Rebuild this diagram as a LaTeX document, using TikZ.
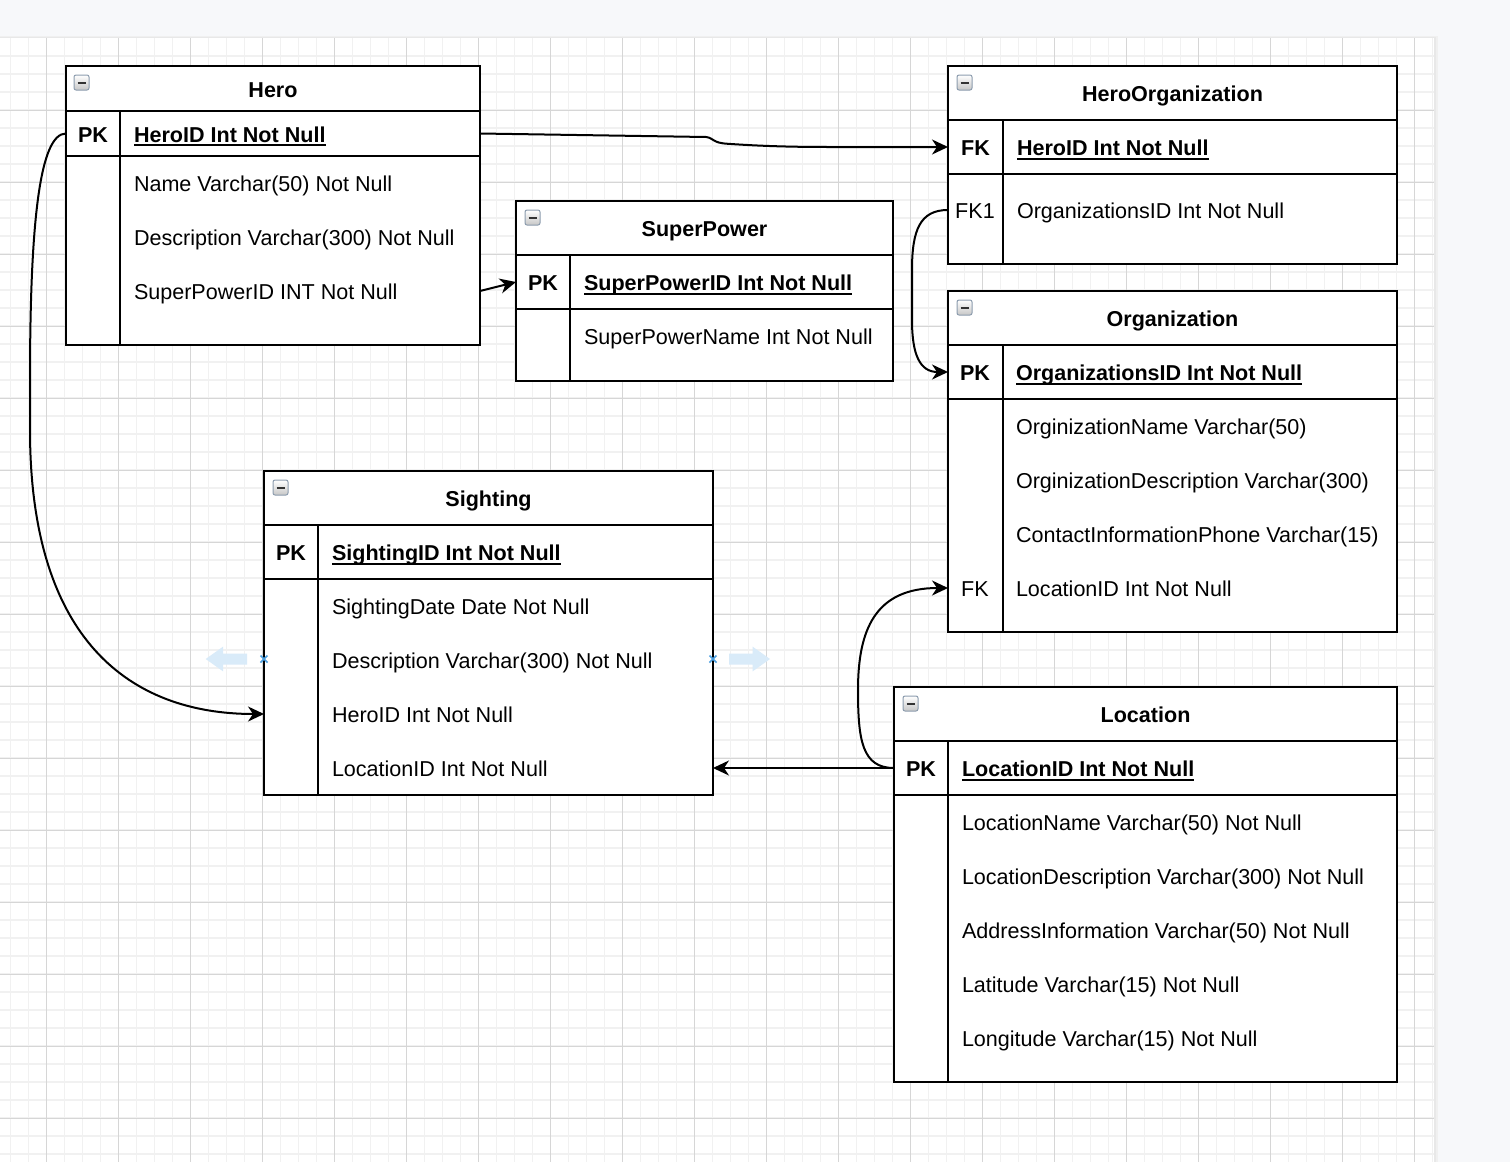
\documentclass[tikz,border=0pt]{standalone}
\usepackage{fontspec}
\setmainfont{Liberation Sans}
\usetikzlibrary{arrows.meta}

% bold key field with a heavy underline
\newcommand{\keyul}[1]{\setbox0=\hbox{#1}\rlap{\rule[-4pt]{\wd0}{1.8pt}}\box0}

\definecolor{canvasbg}{HTML}{F7F8FA}
\definecolor{gridminor}{HTML}{F1F1F1}
\definecolor{gridmajor}{HTML}{D6D6D6}
\definecolor{hintblue}{HTML}{D9EBF9}
\definecolor{markblue}{HTML}{4A9FE0}
\definecolor{iconedge}{HTML}{8C9CAE}

\tikzset{
  txt/.style={font=\fontsize{21.55pt}{25pt}\selectfont, inner sep=0pt, outer sep=0pt,
              text height=15.4pt, text depth=0pt, yshift=-1pt},
  title/.style={txt, font=\fontsize{21.55pt}{25pt}\selectfont\bfseries},
  keybold/.style={txt, font=\fontsize{21.55pt}{25pt}\selectfont\bfseries},
  keyplain/.style={txt},
  field/.style={txt, anchor=west},
  fieldbold/.style={txt, anchor=west, font=\fontsize{21.55pt}{25pt}\selectfont\bfseries},
  frame/.style={draw=black, line width=2pt, fill=white, inner sep=0pt, outer sep=0pt},
  rowcell/.style={inner sep=0pt, outer sep=0pt},
  rule/.style={draw=black, line width=2pt},
  link/.style={draw=black, line width=2pt, -{Stealth[length=16pt,width=15pt,inset=5pt]}},
  collapse/.pic={
    \draw[iconedge, line width=1pt, rounded corners=2pt, top color=white, bottom color=black!22]
      (0,0) rectangle (15,15);
    \draw[black!80, line width=2pt] (3.5,7.5) -- (11.5,7.5);
  }
}

\begin{document}
\begin{tikzpicture}[x=1pt,y=-1pt]
\useasboundingbox (0,0) rectangle (1510,1162);

% canvas and page
\fill[canvasbg] (0,0) rectangle (1510,1162);
\fill[black!6] (0,35.5) rectangle (1437.5,1162);
\fill[black!9] (0,37) rectangle (1435.5,1162);
\fill[white] (0,38) rectangle (1434,1162);

% grid
\foreach \i in {0,...,79} \draw[gridminor, line width=1.5pt] ({10.7+18*\i},38) -- ({10.7+18*\i},1162);
\foreach \j in {1,...,62} \draw[gridminor, line width=1.5pt] (0,{38+18*\j}) -- (1434,{38+18*\j});
\foreach \i in {0,...,19} \draw[gridmajor, line width=1pt] ({46.7+72*\i},38) -- ({46.7+72*\i},1162);
\foreach \j in {1,...,15} \draw[gridmajor, line width=1pt] (0,{38+72*\j}) -- (1434,{38+72*\j});

% ---------------- Hero ----------------
\node[frame, minimum width=414pt, minimum height=279pt] (hero) at (273,205.5) {};
\draw[rule] (66,111) -- (480,111);
\draw[rule] (66,156) -- (480,156);
\draw[rule] (120,111) -- (120,345);
\pic at (74,75) {collapse};
\node[title] (hero-title) at (273,89) {Hero};
\node[rowcell, minimum width=414pt, minimum height=45pt] (hero-pk) at (273,133.5) {};
\node[rowcell, minimum width=414pt, minimum height=54pt] (hero-name) at (273,183) {};
\node[rowcell, minimum width=414pt, minimum height=54pt] (hero-desc) at (273,237) {};
\node[rowcell, minimum width=414pt, minimum height=54pt] (hero-spid) at (273,291) {};
\node[keybold] (hero-pk-k) at (93,133.5) {PK};
\node[fieldbold] (hero-pk-f) at (134,133.5) {\keyul{HeroID Int Not Null}};
\node[field] (hero-name-f) at (134,183) {Name Varchar(50) Not Null};
\node[field] (hero-desc-f) at (134,237) {Description Varchar(300) Not Null};
\node[field] (hero-spid-f) at (134,291) {SuperPowerID INT Not Null};

% ---------------- SuperPower ----------------
\node[frame, minimum width=377pt, minimum height=180pt] (sp) at (704.5,291) {};
\draw[rule] (516,255) -- (893,255);
\draw[rule] (516,309) -- (893,309);
\draw[rule] (570,255) -- (570,381);
\pic at (525,210) {collapse};
\node[title] (sp-title) at (704.5,228) {SuperPower};
\node[rowcell, minimum width=377pt, minimum height=54pt] (sp-pk) at (704.5,282) {};
\node[rowcell, minimum width=377pt, minimum height=54pt] (sp-name) at (704.5,336) {};
\node[keybold] (sp-pk-k) at (543,282) {PK};
\node[fieldbold] (sp-pk-f) at (584,282) {\keyul{SuperPowerID Int Not Null}};
\node[field] (sp-name-f) at (584,336) {SuperPowerName Int Not Null};

% ---------------- HeroOrganization ----------------
\node[frame, minimum width=449pt, minimum height=198pt] (ho) at (1172.5,165) {};
\draw[rule] (948,120) -- (1397,120);
\draw[rule] (948,174) -- (1397,174);
\draw[rule] (1003,120) -- (1003,264);
\pic at (957,75) {collapse};
\node[title] (ho-title) at (1172.5,93) {HeroOrganization};
\node[rowcell, minimum width=449pt, minimum height=54pt] (ho-fk) at (1172.5,147) {};
\node[rowcell, minimum width=449pt, minimum height=54pt] (ho-fk1) at (1172.5,210) {};
\node[keybold] (ho-fk-k) at (975.5,147) {FK};
\node[fieldbold] (ho-fk-f) at (1017,147) {\keyul{HeroID Int Not Null}};
\node[keyplain] (ho-fk1-k) at (975,210) {FK1};
\node[field] (ho-fk1-f) at (1017,210) {OrganizationsID Int Not Null};

% ---------------- Organization ----------------
\node[frame, minimum width=449pt, minimum height=341pt] (org) at (1172.5,461.5) {};
\draw[rule] (948,345) -- (1397,345);
\draw[rule] (948,399) -- (1397,399);
\draw[rule] (1003,345) -- (1003,632);
\pic at (957,300) {collapse};
\node[title] (org-title) at (1172.5,318) {Organization};
\node[rowcell, minimum width=449pt, minimum height=54pt] (org-pk) at (1172.5,372) {};
\node[rowcell, minimum width=449pt, minimum height=54pt] (org-name) at (1172.5,426) {};
\node[rowcell, minimum width=449pt, minimum height=54pt] (org-desc) at (1172.5,480) {};
\node[rowcell, minimum width=449pt, minimum height=54pt] (org-phone) at (1172.5,534) {};
\node[rowcell, minimum width=449pt, minimum height=54pt] (org-loc) at (1172.5,588) {};
\node[keybold] (org-pk-k) at (975,372) {PK};
\node[fieldbold] (org-pk-f) at (1016,372) {\keyul{OrganizationsID Int Not Null}};
\node[field] (org-name-f) at (1016,426) {OrginizationName Varchar(50)};
\node[field] (org-desc-f) at (1016,480) {OrginizationDescription Varchar(300)};
\node[field] (org-phone-f) at (1016,534) {ContactInformationPhone Varchar(15)};
\node[keyplain] (org-loc-k) at (975,588) {FK};
\node[field] (org-loc-f) at (1016,588) {LocationID Int Not Null};

% ---------------- Sighting ----------------
\node[frame, minimum width=449pt, minimum height=324pt] (sight) at (488.5,633) {};
\draw[rule] (264,525) -- (713,525);
\draw[rule] (264,579) -- (713,579);
\draw[rule] (318,525) -- (318,795);
\pic at (273,480) {collapse};
\node[title] (sight-title) at (488.5,498) {Sighting};
\node[rowcell, minimum width=449pt, minimum height=54pt] (sight-pk) at (488.5,552) {};
\node[rowcell, minimum width=449pt, minimum height=54pt] (sight-date) at (488.5,606) {};
\node[rowcell, minimum width=449pt, minimum height=54pt] (sight-desc) at (488.5,660) {};
\node[rowcell, minimum width=449pt, minimum height=54pt] (sight-hero) at (488.5,714) {};
\node[rowcell, minimum width=449pt, minimum height=54pt] (sight-loc) at (488.5,768) {};
\node[keybold] (sight-pk-k) at (291,552) {PK};
\node[fieldbold] (sight-pk-f) at (332,552) {\keyul{SightingID Int Not Null}};
\node[field] (sight-date-f) at (332,606) {SightingDate Date Not Null};
\node[field] (sight-desc-f) at (332,660) {Description Varchar(300) Not Null};
\node[field] (sight-hero-f) at (332,714) {HeroID Int Not Null};
\node[field] (sight-loc-f) at (332,768) {LocationID Int Not Null};

% ---------------- Location ----------------
\node[frame, minimum width=503pt, minimum height=395pt] (loc) at (1145.5,884.5) {};
\draw[rule] (894,741) -- (1397,741);
\draw[rule] (894,795) -- (1397,795);
\draw[rule] (948,741) -- (948,1082);
\pic at (903,696) {collapse};
\node[title] (loc-title) at (1145.5,714) {Location};
\node[rowcell, minimum width=503pt, minimum height=54pt] (loc-pk) at (1145.5,768) {};
\node[keybold] (loc-pk-k) at (921,768) {PK};
\node[fieldbold] (loc-pk-f) at (962,768) {\keyul{LocationID Int Not Null}};
\node[field] (loc-name-f) at (962,822) {LocationName Varchar(50) Not Null};
\node[field] (loc-desc-f) at (962,876) {LocationDescription Varchar(300) Not Null};
\node[field] (loc-addr-f) at (962,930) {AddressInformation Varchar(50) Not Null};
\node[field] (loc-lat-f) at (962,984) {Latitude Varchar(15) Not Null};
\node[field] (loc-lon-f) at (962,1038) {Longitude Varchar(15) Not Null};

% ---------------- connectors ----------------
\draw[link] (hero-pk.east) -- (706,137) .. controls (714,138) and (712,143) .. (728,143.8)
  .. controls (760,146) and (790,147) .. (830,147) -- (ho-fk.west);
\draw[link] (hero-pk.west) .. controls (40,133.5) and (30,220) .. (30,380) -- (30,430)
  .. controls (30,640) and (130,714) .. (sight-hero.west);
\draw[link] (hero-spid.east) -- (sp-pk.west);
\draw[link] (ho-fk1.west) .. controls (920,210) and (912,230) .. (912,270) -- (912,320)
  .. controls (912,355) and (920,372) .. (org-pk.west);
\draw[link] (loc-pk.west) .. controls (862,768) and (858,740) .. (858,690)
  .. controls (858,630) and (875,588) .. (org-loc.west);
\draw[link] (loc-pk.west) -- (sight-loc.east);

% ---------------- hover hints beside Sighting ----------------
\fill[hintblue] (205.7,659) -- (223,646.7) -- (223,653.5) -- (247,653.5) -- (247,664.5)
  -- (223,664.5) -- (223,671.3) -- cycle;
\fill[hintblue] (770,659) -- (752.7,646.7) -- (752.7,653.5) -- (729,653.5) -- (729,664.5)
  -- (752.7,664.5) -- (752.7,671.3) -- cycle;
\draw[markblue, line width=1.5pt] (260.5,655.5) -- (267.5,662.5) (260.5,662.5) -- (267.5,655.5);
\draw[markblue, line width=1.5pt] (709.5,655.5) -- (716.5,662.5) (709.5,662.5) -- (716.5,655.5);
\end{tikzpicture}
\end{document}
